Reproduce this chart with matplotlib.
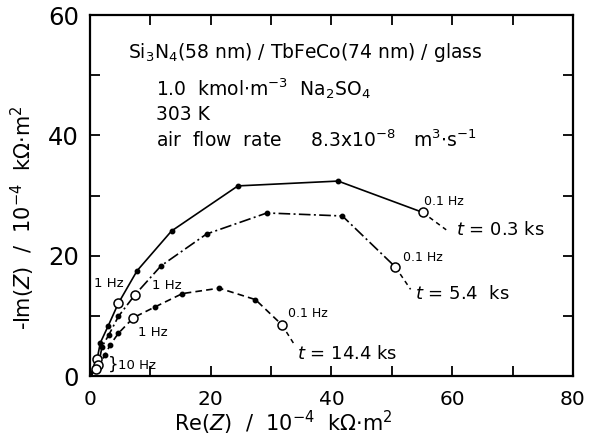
import matplotlib
matplotlib.use("Agg")
import matplotlib.pyplot as plt

plt.rcParams['font.family'] = ['DejaVu Sans']
plt.rcParams['mathtext.fontset'] = 'dejavusans'

# ---- data (10^-4 kOhm m^2) ----
re_03 = [0.0, 1.2, 1.7, 3.0, 4.7, 7.8, 13.5, 24.5, 41.1, 55.1]
im_03 = [0.0, 2.9, 5.5, 8.3, 12.1, 17.5, 24.1, 31.6, 32.4, 27.2]
fq_03 = ['', '10 Hz', '', '', '1 Hz', '', '', '', '', '0.1 Hz']
tail_03 = ([55.1, 59.0], [27.2, 24.3])

re_54 = [0.0, 1.4, 2.0, 3.1, 4.7, 7.45, 11.75, 19.3, 29.3, 41.8, 50.6]
im_54 = [0.0, 1.8, 4.9, 6.8, 9.9, 13.5, 18.3, 23.6, 27.1, 26.6, 18.1]
fq_54 = ['', '10 Hz', '', '', '', '1 Hz', '', '', '', '', '0.1 Hz']
tail_54 = ([50.6, 53.1], [18.1, 14.4])

re_144 = [0.0, 1.0, 2.5, 3.3, 4.7, 7.2, 10.8, 15.3, 21.4, 27.4, 31.8]
im_144 = [0.0, 1.2, 3.5, 5.1, 7.1, 9.7, 11.5, 13.7, 14.6, 12.7, 8.5]
fq_144 = ['', '10 Hz', '', '', '', '1 Hz', '', '', '', '', '0.1 Hz']
tail_144 = ([31.8, 33.8], [8.5, 5.3])

series = [
    (re_03, im_03, fq_03, tail_03, '-', r'$t$ = 0.3 ks'),
    (re_54, im_54, fq_54, tail_54, (0, (7, 2, 1.2, 2)), r'$t$ = 5.4  ks'),
    (re_144, im_144, fq_144, tail_144, (0, (4, 2.5)), r'$t$ = 14.4 ks'),
]

fig = plt.figure(figsize=(5.89, 4.47), dpi=100)
ax = fig.add_axes([0.1528, 0.1588, 0.82, 0.8076])

for re, im, fq, tail, ls, lab in series:
    ax.plot(re, im, color='black', lw=1.2, linestyle=ls, zorder=2)
    ax.plot(tail[0], tail[1], color='black', lw=1.1, linestyle=(0, (3, 2.5)), zorder=2)
    fx = [x for x, f in zip(re, fq) if not f]
    fy = [y for y, f in zip(im, fq) if not f]
    ax.plot(fx, fy, 'o', color='black', ms=3.2, zorder=3)
    ox = [x for x, f in zip(re, fq) if f]
    oy = [y for y, f in zip(im, fq) if f]
    ax.plot(ox, oy, 'o', mfc='white', mec='black', mew=1.1, ms=6.5, zorder=4)

# frequency annotations
ax.text(0.7, 15.4, '1 Hz', fontsize=9.5, va='center', ha='left')
ax.text(10.3, 15.0, '1 Hz', fontsize=9.5, va='center', ha='left')
ax.text(7.9, 7.3, '1 Hz', fontsize=9.5, va='center', ha='left')
ax.text(2.9, 1.9, '}', fontsize=12, va='center', ha='left')
ax.text(4.6, 1.7, '10 Hz', fontsize=9.5, va='center', ha='left')
ax.text(55.3, 29.0, '0.1 Hz', fontsize=9, va='center', ha='left')
ax.text(51.9, 19.7, '0.1 Hz', fontsize=9, va='center', ha='left')
ax.text(32.8, 10.4, '0.1 Hz', fontsize=9, va='center', ha='left')

# time labels
ax.text(60.7, 24.3, series[0][5], fontsize=13, va='center', ha='left')
ax.text(53.8, 13.6, series[1][5], fontsize=13, va='center', ha='left')
ax.text(34.3, 3.7, series[2][5], fontsize=13, va='center', ha='left')

# header text
hs = 13.5
ax.text(6.3, 53.8, r'Si$_3$N$_4$(58 nm) / TbFeCo(74 nm) / glass', fontsize=hs, va='center', ha='left')
ax.text(11.0, 47.8, r'1.0  kmol$\cdot$m$^{-3}$  Na$_2$SO$_4$', fontsize=hs, va='center', ha='left')
ax.text(11.0, 43.4, '303 K', fontsize=hs, va='center', ha='left')
ax.text(11.0, 39.2, r'air  flow  rate     8.3x10$^{-8}$   m$^3$$\cdot$s$^{-1}$', fontsize=hs, va='center', ha='left')

ax.set_xlim(0, 80)
ax.set_ylim(0, 60)
ax.set_xticks([0, 20, 40, 60, 80])
ax.set_yticks([0, 20, 40, 60])
ax.set_xticks([10, 30, 50, 70], minor=True)
ax.set_yticks([10, 30, 50], minor=True)
ax.tick_params(which='both', direction='in', top=True, right=True, length=7, width=1.3)
ax.tick_params(axis='x', labelsize=14.5, pad=10)
ax.tick_params(axis='y', labelsize=17.5, pad=8)
for s in ax.spines.values():
    s.set_linewidth(1.6)

ax.set_xlabel(r'Re($Z$)  /  10$^{-4}$  k$\Omega$$\cdot$m$^2$', fontsize=15)
ax.set_ylabel(r'-Im($Z$)  /  10$^{-4}$  k$\Omega$$\cdot$m$^2$', fontsize=15)
ax.xaxis.set_label_coords(0.4, -0.092)
ax.yaxis.set_label_coords(-0.11, 0.44)

fig.savefig('out.png', dpi=100)
